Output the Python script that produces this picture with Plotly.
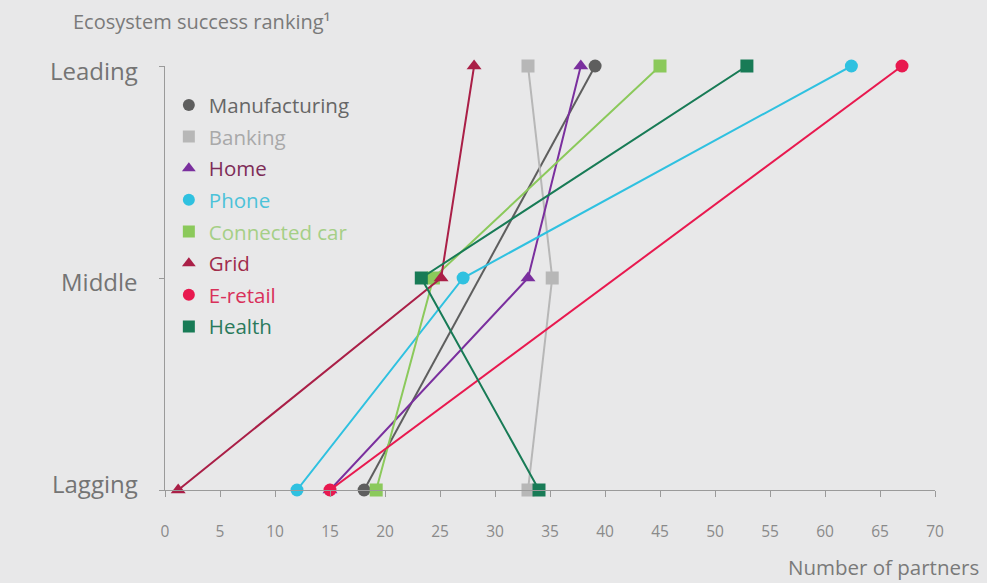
import plotly.graph_objects as go

# ---- data ----
levels = ["Lagging", "Middle", "Leading"]
series = ["Manufacturing", "Banking", "Home", "Phone", "Connected car", "Grid", "E-retail", "Health"]

manufacturing_x = [18.1, 39.1]
manufacturing_lv = ["Lagging", "Leading"]
banking_x = [33.0, 35.2, 33.0]
banking_lv = ["Lagging", "Middle", "Leading"]
home_x = [15.0, 33.0, 37.8]
home_lv = ["Lagging", "Middle", "Leading"]
phone_x = [12.0, 27.1, 62.4]
phone_lv = ["Lagging", "Middle", "Leading"]
connected_car_x = [19.2, 24.4, 45.0]
connected_car_lv = ["Lagging", "Middle", "Leading"]
grid_x = [1.2, 25.1, 28.1]
grid_lv = ["Lagging", "Middle", "Leading"]
eretail_x = [15.0, 67.0]
eretail_lv = ["Lagging", "Leading"]
health_x = [34.0, 23.3, 52.9]
health_lv = ["Lagging", "Middle", "Leading"]

x_ticks = list(range(0, 71, 5))

# ---- styles ----
data = {
    "Manufacturing": (manufacturing_x, manufacturing_lv),
    "Banking": (banking_x, banking_lv),
    "Home": (home_x, home_lv),
    "Phone": (phone_x, phone_lv),
    "Connected car": (connected_car_x, connected_car_lv),
    "Grid": (grid_x, grid_lv),
    "E-retail": (eretail_x, eretail_lv),
    "Health": (health_x, health_lv),
}
colors = {
    "Manufacturing": "#5e5e5e",
    "Banking": "#b7b7b7",
    "Home": "#7a2f9e",
    "Phone": "#2fc1e0",
    "Connected car": "#8bc95b",
    "Grid": "#aa1f47",
    "E-retail": "#e8194f",
    "Health": "#187b56",
}
text_colors = {
    "Manufacturing": "#666666",
    "Banking": "#a9a9a9",
    "Home": "#7e2c58",
    "Phone": "#4cc2d9",
    "Connected car": "#a5cf86",
    "Grid": "#a02c4c",
    "E-retail": "#d9305a",
    "Health": "#2a7a5c",
}
symbols = {
    "Manufacturing": "circle",
    "Banking": "square",
    "Home": "triangle-up",
    "Phone": "circle",
    "Connected car": "square",
    "Grid": "triangle-up",
    "E-retail": "circle",
    "Health": "square",
}
# small vertical nudge (px) of the level labels, as in the original layout
label_nudge = {"Lagging": -7, "Middle": 3, "Leading": 4}

FONT = "Open Sans"
fig = go.Figure()

for s in series:
    xs, lv = data[s]
    ys = [levels.index(v) for v in lv]
    fig.add_trace(go.Scatter(
        x=xs, y=ys, mode="lines+markers",
        line=dict(color=colors[s], width=2),
        marker=dict(symbol=symbols[s], size=13, color=colors[s]),
        showlegend=False, cliponaxis=False, legendgroup=s, hoverinfo="skip",
    ))

for s in series:
    fig.add_trace(go.Scatter(
        x=[None], y=[None], mode="markers",
        marker=dict(symbol=symbols[s], size=12, color=colors[s]),
        name=f'<span style="color:{text_colors[s]}">{s}</span>',
        legendgroup=s, showlegend=True,
    ))

annotations = [
    dict(text="Ecosystem success ranking¹", xref="paper", yref="paper",
         x=(71 - 165) / 770, y=(490 - 22) / 424, xanchor="left", yanchor="middle",
         showarrow=False, font=dict(family=FONT, size=20, color="#7a7a7a")),
    dict(text="Number of partners", xref="paper", yref="paper",
         x=(981 - 165) / 770, y=(490 - 567) / 424, xanchor="right", yanchor="middle",
         showarrow=False, font=dict(family=FONT, size=20.5, color="#7a7a7a")),
]
for i, lv in enumerate(levels):
    annotations.append(dict(
        text=lv, xref="paper", yref="y", x=(140 - 165) / 770, y=i,
        xanchor="right", yanchor="middle", yshift=-label_nudge[lv], showarrow=False,
        font=dict(family=FONT, size=24, color="#747474"),
    ))

fig.update_layout(
    width=987, height=583,
    margin=dict(l=165, r=52, t=66, b=93),
    paper_bgcolor="#e8e8e9", plot_bgcolor="#e8e8e9",
    font=dict(family=FONT, color="#777777"),
    legend=dict(
        x=0.005, y=0.955, xanchor="left", yanchor="top",
        bgcolor="rgba(0,0,0,0)", font=dict(family=FONT, size=20.5),
        traceorder="grouped", tracegroupgap=2, itemwidth=30,
    ),
    xaxis=dict(
        range=[0, 70], tickvals=x_ticks, showgrid=False, zeroline=False,
        showline=True, linecolor="#9a9a9a", linewidth=1.3,
        ticks="outside", ticklen=6, tickcolor="#9a9a9a", tickwidth=1.3,
        tickfont=dict(family=FONT, size=15.5, color="#8a8a8a"),
        ticklabelstandoff=21,
    ),
    yaxis=dict(
        range=[0, 2], tickvals=[0, 1, 2], showticklabels=False,
        showgrid=False, zeroline=False,
        showline=True, linecolor="#9a9a9a", linewidth=1.3,
        ticks="outside", ticklen=5, tickcolor="#9a9a9a", tickwidth=1.3,
    ),
    annotations=annotations,
)

fig.write_html("out.html")
